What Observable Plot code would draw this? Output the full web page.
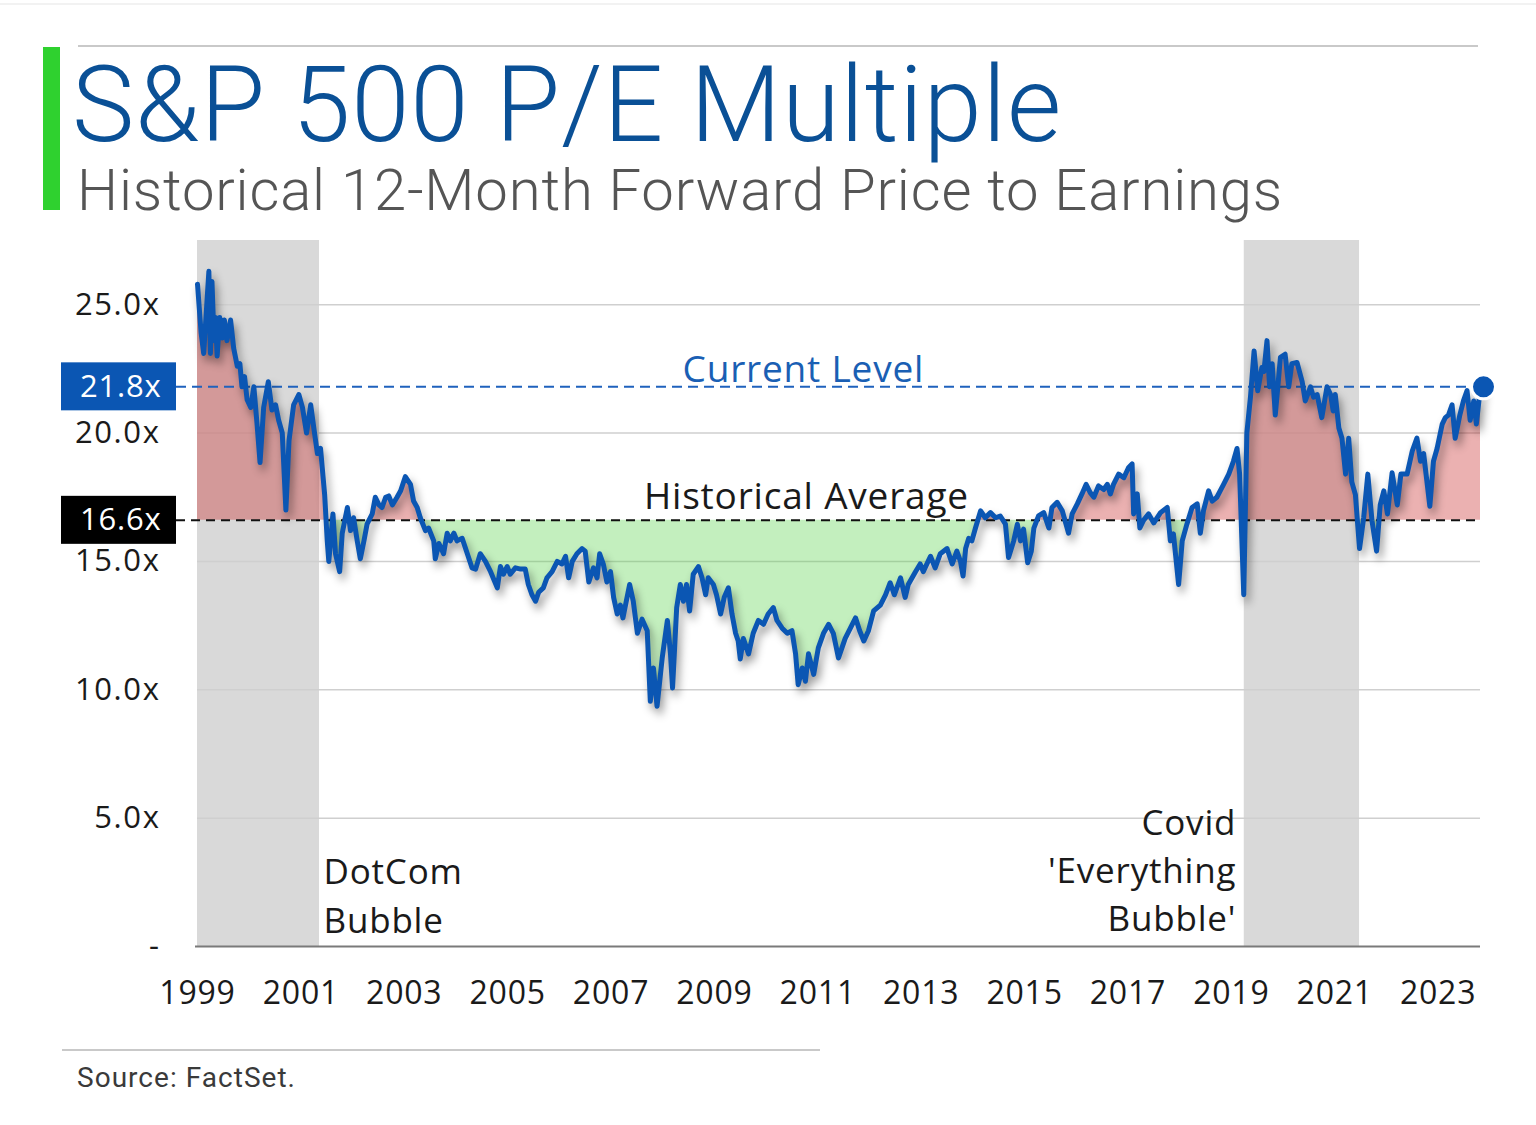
<!DOCTYPE html>
<html><head><meta charset="utf-8">
<script src="https://cdn.jsdelivr.net/npm/d3@7"></script>
<script src="https://cdn.jsdelivr.net/npm/@observablehq/plot@0.6"></script>
<style>
body{margin:0;background:#fff;width:1536px;height:1125px;position:relative;overflow:hidden;font-family:"Open Sans",sans-serif;}
.abs{position:absolute;white-space:nowrap;}
#topline{left:0;top:3px;width:1536px;height:2px;background:#f2f2f2;}
#rule1{left:78px;top:45px;width:1400px;height:2px;background:#c9c9c9;}
#greenbar{left:43px;top:47px;width:17px;height:163px;background:#2fd12f;}
#title{left:72px;top:66px;font-family:Roboto,sans-serif;font-weight:300;font-size:105px;line-height:80px;height:80px;color:#0a5096;}
#subtitle{left:77px;top:164px;font-family:Roboto,sans-serif;font-weight:300;font-size:58px;line-height:52px;height:52px;color:#555;}
#chart{left:0;top:200px;}
#rule2{left:62px;top:1049px;width:758px;height:2px;background:#c9c9c9;}
#source{left:77px;top:1064px;font-family:Roboto,sans-serif;font-size:28px;line-height:1;color:#3a3a3a;}
#chart g[aria-label="line"]{filter:drop-shadow(3px 6px 4px rgba(0,0,0,0.4));}
#chart text{letter-spacing:0.8px;}
#chart g[aria-label="y-axis tick label"] text{letter-spacing:1.6px;}
</style>
</head><body>
<div id="topline" class="abs"></div>
<div id="rule1" class="abs"></div>
<div id="greenbar" class="abs"></div>
<div id="title" class="abs">S&amp;P 500 P/E Multiple</div>
<div id="subtitle" class="abs">Historical 12-Month Forward Price to Earnings</div>
<div id="chart" class="abs"></div>
<div id="rule2" class="abs"></div>
<div id="source" class="abs">Source: FactSet.</div>
<script>
// ---- data ----
const years = [
1999.00,1999.07,1999.12,1999.22,1999.25,1999.28,1999.32,1999.35,1999.38,1999.43,
1999.48,1999.52,1999.57,1999.64,1999.70,1999.77,1999.82,1999.86,1999.91,1999.96,
2000.03,2000.09,2000.15,2000.21,2000.28,2000.37,2000.44,2000.51,2000.57,2000.64,
2000.71,2000.77,2000.86,2000.96,2001.03,2001.11,2001.19,2001.25,2001.32,2001.38,
2001.46,2001.51,2001.54,2001.62,2001.67,2001.75,2001.80,2001.90,2001.96,2002.02,
2002.09,2002.15,2002.22,2002.28,2002.38,2002.44,2002.51,2002.57,2002.64,2002.70,
2002.77,2002.86,2002.93,2003.02,2003.12,2003.18,2003.25,2003.31,2003.41,2003.47,
2003.57,2003.60,2003.67,2003.76,2003.83,2003.89,2003.96,2004.02,2004.12,2004.22,
2004.31,2004.38,2004.47,2004.57,2004.67,2004.80,2004.86,2004.92,2004.99,2005.05,
2005.15,2005.25,2005.34,2005.40,2005.47,2005.54,2005.60,2005.69,2005.76,2005.86,
2005.96,2006.05,2006.12,2006.18,2006.25,2006.34,2006.44,2006.50,2006.57,2006.66,
2006.73,2006.78,2006.85,2006.92,2006.99,2007.05,2007.12,2007.18,2007.23,2007.36,
2007.43,2007.51,2007.60,2007.70,2007.76,2007.82,2007.89,2007.99,2008.09,2008.15,
2008.19,2008.27,2008.34,2008.40,2008.46,2008.52,2008.59,2008.69,2008.76,2008.83,
2008.88,2008.98,2009.04,2009.12,2009.19,2009.27,2009.34,2009.41,2009.46,2009.50,
2009.56,2009.66,2009.75,2009.85,2009.95,2010.04,2010.14,2010.21,2010.31,2010.41,
2010.50,2010.57,2010.62,2010.70,2010.76,2010.82,2010.92,2011.01,2011.11,2011.21,
2011.30,2011.40,2011.53,2011.63,2011.73,2011.81,2011.89,2011.98,2012.08,2012.21,
2012.31,2012.40,2012.48,2012.60,2012.69,2012.75,2012.89,2012.98,2013.04,2013.18,
2013.27,2013.37,2013.50,2013.60,2013.69,2013.76,2013.81,2013.86,2013.92,2013.98,
2014.05,2014.15,2014.24,2014.34,2014.44,2014.53,2014.63,2014.69,2014.79,2014.86,
2014.92,2014.98,2015.06,2015.13,2015.18,2015.27,2015.37,2015.47,2015.53,2015.63,
2015.73,2015.85,2015.92,2016.02,2016.11,2016.19,2016.27,2016.34,2016.43,2016.53,
2016.60,2016.66,2016.72,2016.82,2016.92,2017.01,2017.08,2017.11,2017.18,2017.23,
2017.30,2017.40,2017.50,2017.63,2017.76,2017.82,2017.88,2017.98,2018.05,2018.14,
2018.24,2018.34,2018.40,2018.46,2018.56,2018.63,2018.72,2018.85,2018.95,2019.04,
2019.11,2019.16,2019.24,2019.30,2019.37,2019.44,2019.51,2019.59,2019.63,2019.69,
2019.74,2019.79,2019.85,2019.95,2020.04,2020.11,2020.17,2020.27,2020.37,2020.43,
2020.53,2020.59,2020.66,2020.75,2020.85,2020.92,2020.97,2021.01,2021.08,2021.14,
2021.21,2021.27,2021.33,2021.40,2021.48,2021.56,2021.64,2021.72,2021.81,2021.88,
2021.95,2022.02,2022.11,2022.21,2022.28,2022.40,2022.50,2022.59,2022.66,2022.72,
2022.84,2022.91,2022.98,2023.08,2023.14,2023.20,2023.27,2023.33,2023.42,2023.49,
2023.56,2023.62,2023.69,2023.74,2023.82
];
const pe = [
25.8,23.9,23.1,26.3,23.1,25.9,23.6,24.5,23.0,24.5,
23.7,24.4,23.6,24.4,23.3,22.6,22.7,21.8,22.2,21.3,
21.0,21.8,20.4,18.85,21.0,22.0,20.9,21.1,20.5,20.0,
17.0,19.7,21.1,21.5,21.0,20.0,21.1,20.2,19.2,19.4,
17.6,15.8,15.0,16.85,15.3,14.6,16.1,17.1,16.2,16.7,
15.8,15.1,15.8,16.45,16.85,17.5,17.2,17.1,17.5,17.55,
17.2,17.5,17.75,18.3,18.0,17.35,17.1,16.7,16.2,16.3,
15.8,15.1,15.7,15.3,16.1,15.8,16.1,15.8,15.9,15.3,
14.75,14.7,15.3,15.0,14.6,13.97,14.8,14.5,14.8,14.5,
14.75,14.7,14.7,14.1,13.7,13.45,13.8,13.97,14.36,14.6,
15.0,14.9,15.2,14.36,15.0,15.3,15.5,15.4,14.2,14.75,
14.36,15.3,14.9,14.2,14.6,13.6,12.95,13.3,12.8,14.1,
13.45,12.2,12.75,12.3,9.55,10.85,9.36,11.24,12.7,11.4,
10.07,13.2,14.1,13.45,14.1,13.07,14.5,14.8,14.36,13.7,
14.36,14.1,13.7,12.95,13.6,13.97,12.95,12.2,11.9,11.2,
12.0,11.4,12.2,12.7,12.55,12.95,13.2,12.7,12.4,12.2,
12.3,11.4,10.2,10.85,10.33,11.4,10.6,11.63,12.2,12.55,
12.2,11.24,12.0,12.4,12.8,12.3,11.9,12.3,13.07,13.3,
13.7,14.17,13.7,14.36,13.6,14.1,14.6,14.9,14.6,15.2,
14.75,15.3,15.5,14.9,15.4,15.0,14.43,15.5,15.9,15.8,
16.3,16.97,16.7,16.9,16.7,16.77,16.45,15.15,15.8,16.45,
15.8,16.26,14.95,15.4,16.3,16.77,16.9,16.3,17.1,17.3,
16.97,16.1,16.85,17.24,17.63,18.0,17.68,17.5,17.94,17.8,
18.0,17.63,18.0,18.4,18.26,18.65,18.8,16.85,17.63,16.3,
16.6,16.85,16.5,16.9,17.1,15.8,16.07,14.1,15.8,16.45,
17.1,17.24,16.1,16.97,17.75,17.35,17.5,18.0,18.4,18.9,
19.4,18.4,13.7,20.0,21.4,23.2,21.65,22.55,22.4,23.6,
21.8,22.7,20.7,22.95,23.07,21.8,22.7,22.75,22.0,21.25,
21.8,21.4,21.5,20.6,21.8,21.5,20.86,21.5,20.2,19.8,
18.4,19.8,18.1,17.6,15.5,16.7,18.4,16.6,15.4,17.2,
17.75,16.85,18.45,17.2,18.4,18.4,19.3,19.8,18.9,19.2,
17.15,18.9,19.4,20.35,20.6,20.7,21.1,19.8,20.7,21.25,
21.65,20.5,21.25,20.35,21.8
];
const histAvg = 16.6;
const currentLevel = 21.8;
const bubbleStart = [1999.0, 2019.25];
const bubbleEnd = [2001.36, 2021.48];
const bubbleLabels = ["DotCom\nBubble", "Covid\n'Everything\nBubble'"];
const levelLabels = ["Current Level", "Historical Average"];
const levelLabelYear = [2010.72, 2010.78];
const xTicks = [1999,2001,2003,2005,2007,2009,2011,2013,2015,2017,2019,2021,2023];
const yTicks = [0,5,10,15,20,25];

// ---- build tables ----
const data = years.map((t, i) => ({t, v: pe[i]}));
const bands = bubbleStart.map((s, i) => ({s, e: bubbleEnd[i], label: bubbleLabels[i]}));
const last = data[data.length - 1];
const xDomain = [years[0], years[years.length - 1]];
const blue = "#0b56b3";

const chart = Plot.plot({
  width: 1536, height: 830,
  marginLeft: 197, marginRight: 56, marginTop: 40, marginBottom: 84,
  style: {fontFamily: "'Open Sans', sans-serif", background: "transparent", overflow: "visible", color: "#1a1a1a"},
  x: {domain: xDomain},
  y: {domain: [0, 27.5]},
  marks: [
    Plot.rect(bands, {x1: "s", x2: "e", fill: "#d9d9d9"}),
    Plot.ruleY(yTicks.filter(d => d > 0), {stroke: "#cfcfcf", strokeWidth: 1.5}),
    Plot.areaY(data, {x: "t", y1: histAvg, y2: d => Math.max(d.v, histAvg), fill: "rgb(201,44,43)", fillOpacity: 0.37}),
    Plot.areaY(data, {x: "t", y1: histAvg, y2: d => Math.min(d.v, histAvg), fill: "rgb(93,212,79)", fillOpacity: 0.37}),
    Plot.ruleY([0], {stroke: "#7a7a7a", strokeWidth: 2, insetLeft: -2}),
    Plot.ruleY([currentLevel], {stroke: "#1f62bd", strokeWidth: 2, strokeDasharray: "10,6", insetLeft: -21}),
    Plot.ruleY([histAvg], {stroke: "#111", strokeWidth: 2, strokeDasharray: "9,6", insetLeft: -21}),
    Plot.rect([currentLevel], {x1: xDomain[0], x2: xDomain[0], y1: d => d, y2: d => d, fill: blue, insetLeft: -136, insetRight: 21, insetTop: -24, insetBottom: -24}),
    Plot.rect([histAvg], {x1: xDomain[0], x2: xDomain[0], y1: d => d, y2: d => d, fill: "#000", insetLeft: -136, insetRight: 21, insetTop: -24, insetBottom: -24}),
    Plot.text([currentLevel, histAvg], {x: xDomain[0], y: d => d, text: d => d.toFixed(1) + "x", textAnchor: "end", dx: -36, fill: "white", fontSize: 31}),
    Plot.text([0], {x: levelLabelYear[0], y: currentLevel, text: () => levelLabels[0], lineAnchor: "bottom", dy: -5, fill: "#1a5fb4", fontSize: 37}),
    Plot.text([0], {x: levelLabelYear[1], y: histAvg, text: () => levelLabels[1], lineAnchor: "bottom", dy: -11, fill: "#1a1a1a", fontSize: 37}),
    Plot.text([bands[0]], {x: "e", y: 0, text: "label", textAnchor: "start", lineAnchor: "bottom", dx: 4, dy: -14, lineHeight: 1.38, fontSize: 35, fill: "#1a1a1a"}),
    Plot.text([bands[1]], {x: "s", y: 0, text: "label", textAnchor: "end", lineAnchor: "bottom", dx: -8, dy: -16, lineHeight: 1.37, fontSize: 35, fill: "#1a1a1a"}),
    Plot.line(data, {x: "t", y: "v", stroke: blue, strokeWidth: 5, strokeLinejoin: "round"}),
    Plot.dot([last], {x: "t", y: "v", r: 12, fill: blue, stroke: "white", strokeWidth: 3, dx: 3}),
    Plot.axisY({ticks: yTicks, tickSize: 0, tickPadding: 37, tickFormat: d => d === 0 ? "-" : d.toFixed(1) + "x", fontSize: 31, label: null}),
    Plot.axisX({ticks: xTicks, tickSize: 0, tickPadding: 35, tickFormat: d => String(d), fontSize: 32, label: null})
  ]
});
document.getElementById("chart").appendChild(chart);

function fit(id, target) {
  const el = document.getElementById(id);
  const w = el.getBoundingClientRect().width;
  const n = el.textContent.length;
  el.style.letterSpacing = ((target - w) / n) + "px";
}
fit("title", 990);
fit("subtitle", 1206);
fit("source", 219);
</script>
</body></html>
